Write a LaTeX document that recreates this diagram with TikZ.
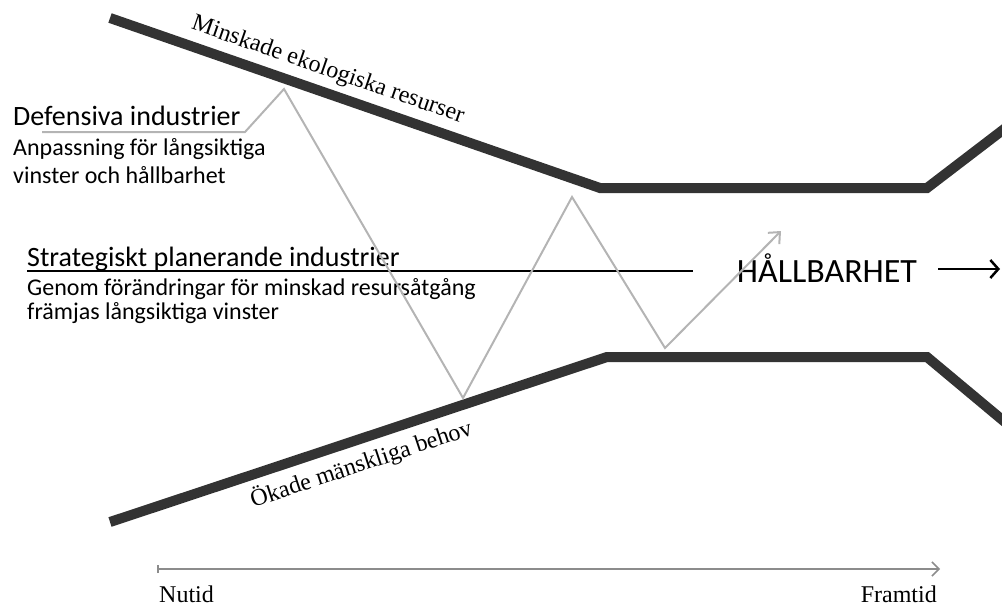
\documentclass[tikz,border=0pt]{standalone}
\usepackage{fontspec}
\setmainfont{Liberation Serif}
\setsansfont{Carlito}
\usetikzlibrary{arrows.meta,positioning,calc}
\definecolor{bandgray}{HTML}{333333}
\definecolor{pathgray}{HTML}{B4B4B4}
\definecolor{axisgray}{HTML}{8C8C8C}

\begin{document}
\begin{tikzpicture}[
    x=1pt, y=-1pt,
    every node/.style={inner sep=0pt},
    band/.style={line width=10pt, draw=bandgray, line join=miter},
    trend/.style={line width=2pt, draw=pathgray, line join=miter},
    heading/.style={anchor=base west, font=\sffamily\fontsize{28}{32}\selectfont},
    subline/.style={anchor=base west, font=\sffamily\fontsize{24}{28}\selectfont},
    bandlabel/.style={sloped, font=\fontsize{24}{28}\selectfont},
    timelabel/.style={anchor=base, font=\fontsize{24}{28}\selectfont}
]
\clip (0,0) rectangle (1002,608);

% Upper boundary
\coordinate (t0) at (110,18);
\coordinate (t1) at (600,188);
\coordinate (t2) at (927,188);
\coordinate (t3) at (1012,123);
\draw[band] (t0) -- node[bandlabel, pos=0.43, above=6pt] (eco) {Minskade ekologiska resurser} (t1) -- (t2) -- (t3);

% Lower boundary
\coordinate (b0) at (110,522);
\coordinate (b1) at (607,357);
\coordinate (b2) at (927,357);
\coordinate (b3) at (1012,428);
\draw[band] (b0) -- node[bandlabel, pos=0.49, below=7pt] (needs) {Ökade mänskliga behov} (b1) -- (b2) -- (b3);

% Industry texts
\node[heading] (def) at (13,125) {Defensiva industrier};
\node[subline] (defa) at (13,155) {Anpassning för långsiktiga};
\node[subline] (defb) at (13,183) {vinster och hållbarhet};

\node[heading] (strat) at (27,266) {Strategiskt planerande industrier};
\node[subline] (strata) at (27,295) {Genom förändringar för minskad resursåtgång};
\node[subline] (stratb) at (27,319) {främjas långsiktiga vinster};

% Goal
\node[anchor=center, font=\sffamily\fontsize{34}{40}\selectfont] (goal) at (827,268) {HÅLLBARHET};
\coordinate (edge) at (1000,269);
\draw[line width=2.5pt, -{Straight Barb[length=8pt, width=18pt]}] ($(goal.east |- edge)+(21,0)$) -- (edge);

% Strategic line
\coordinate (s0) at (27,271);
\coordinate (s1) at (693,271);
\draw[line width=2.5pt] (s0) -- (s1);

% Zigzag path
\coordinate (z0) at (42,132);
\coordinate (z1) at (245,132);
\coordinate (z2) at (284,89);
\coordinate (z3) at (463,398);
\coordinate (z4) at (572,197);
\coordinate (z5) at (665,348);
\coordinate (z6) at (781,231);
\draw[trend, -{Straight Barb[length=9pt, width=16pt]}] (z0) -- (z1) -- (z2) -- (z3) -- (z4) -- (z5) -- (z6);

% Time axis
\coordinate (now) at (157,569);
\coordinate (future) at (940,569);
\draw[line width=1.5pt, draw=axisgray, {Bar[width=8pt]}-{Straight Barb[length=7pt, width=14pt]}] (now) -- (future);
\node[timelabel, anchor=base west] (nutid) at (159,602) {Nutid};
\node[timelabel, anchor=base east] (framtid) at (937,602) {Framtid};

\end{tikzpicture}
\end{document}
